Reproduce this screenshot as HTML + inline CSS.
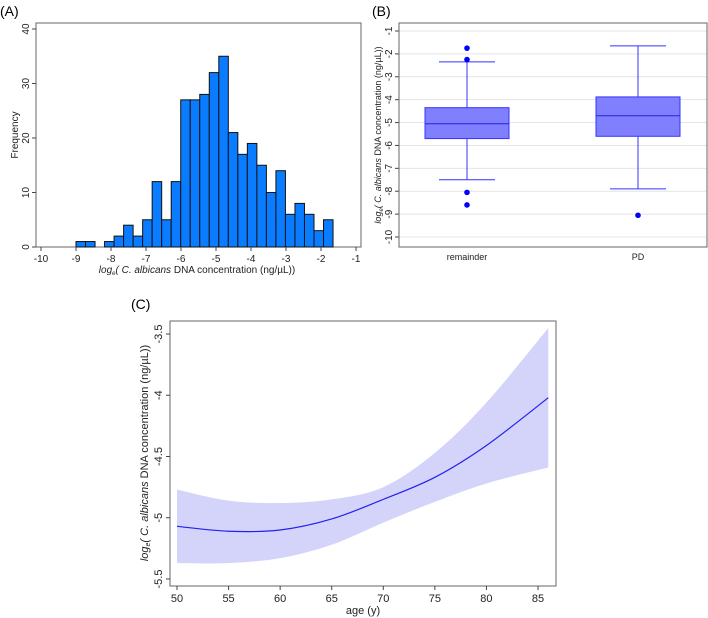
<!DOCTYPE html>
<html><head><meta charset="utf-8"><style>
body{margin:0;background:#fff;}
svg{display:block;font-family:"Liberation Sans",sans-serif;}
</style></head><body>
<svg id="svg" width="708" height="618" xmlns="http://www.w3.org/2000/svg">
<text x="0" y="16" font-size="14">(A)</text>
<text x="372" y="16" font-size="14">(B)</text>
<text x="131" y="309" font-size="14">(C)</text>
<g id="ga"></g>
<g id="gb"></g>
<g id="gc"></g>
</svg>
<script>
// Panel A data
const histStart = -9.0;
const histBinWidth = 0.272;
const histCounts = [1,1,0,1,2,4,2,5,12,5,12,27,27,28,32,35,21,17,19,15,10,14,6,8,6,3,5];
const histXTicks = [-10,-9,-8,-7,-6,-5,-4,-3,-2,-1];
const histYTicks = [0,10,20,30,40];
// Panel B data
const boxGroups = ["remainder","PD"];
const boxQ1 = [-5.7,-5.6];
const boxMedian = [-5.05,-4.7];
const boxQ3 = [-4.35,-3.88];
const boxWhiskLo = [-7.5,-7.9];
const boxWhiskHi = [-2.35,-1.65];
const boxOutliers = [[-1.75,-2.25,-8.05,-8.6],[-9.05]];
const boxYTicks = [-1,-2,-3,-4,-5,-6,-7,-8,-9,-10];
// Panel C data
const ages = [50,55,60,65,70,75,80,86];
const fitValues = [-5.07,-5.11,-5.10,-5.01,-4.85,-4.67,-4.41,-4.02];
const upperCI = [-4.77,-4.86,-4.88,-4.85,-4.75,-4.47,-4.06,-3.45];
const lowerCI = [-5.37,-5.37,-5.33,-5.22,-5.04,-4.87,-4.72,-4.59];
const ageTicks = [50,55,60,65,70,75,80,85];
const cYTicks = [-3.5,-4,-4.5,-5,-5.5];

const NS="http://www.w3.org/2000/svg";
function mk(parent,tag,attrs,text){const e=document.createElementNS(NS,tag);for(const k in attrs)e.setAttribute(k,attrs[k]);if(text!==undefined)e.textContent=text;parent.appendChild(e);return e;}

// ---- Panel A
(function(){
const g=document.getElementById('ga');
const xA=v=>41+(v+10)*(315/9), yA=v=>247-v*(218/40);
mk(g,'rect',{x:36,y:23,width:325,height:224,fill:'none',stroke:'#666','stroke-width':1});
histCounts.forEach((c,i)=>{ if(!c) return;
 const x0=xA(histStart+i*histBinWidth), x1=xA(histStart+(i+1)*histBinWidth);
 const r=mk(g,'rect',{x:x0,y:yA(c),width:x1-x0,height:yA(0)-yA(c),fill:'#0a7cff',stroke:'#111','stroke-width':1});
 
 
});
histXTicks.forEach(t=>{mk(g,'line',{x1:xA(t),x2:xA(t),y1:247,y2:251,stroke:'#444'});
 mk(g,'text',{x:xA(t),y:262,'font-size':10,'text-anchor':'middle',fill:'#222'},t);});
histYTicks.forEach(t=>{mk(g,'line',{x1:32,x2:36,y1:yA(t),y2:yA(t),stroke:'#444'});
 mk(g,'text',{x:0,y:0,'font-size':10,'text-anchor':'middle',fill:'#222',transform:`translate(29,${yA(t)}) rotate(-90)`},t);});
const yt=mk(g,'text',{x:0,y:0,'font-size':10,'text-anchor':'middle',fill:'#222',transform:'translate(18,135) rotate(-90)'},'Frequency');

const xt=mk(g,'text',{x:197,y:273,'font-size':10,'text-anchor':'middle',fill:'#222'});

xt.innerHTML='<tspan font-style="italic">log<tspan font-size="6" dy="2">e</tspan><tspan dy="-2">( C. albicans</tspan></tspan> DNA concentration (ng/µL))';
})();

// ---- Panel B
(function(){
const g=document.getElementById('gb');
const yB=v=>31+(-1-v)*(206/9);
const cx=[467,638];
boxYTicks.forEach(t=>{mk(g,'line',{x1:399,x2:707,y1:yB(t),y2:yB(t),stroke:'#e4e4e4'});
 mk(g,'line',{x1:395,x2:399,y1:yB(t),y2:yB(t),stroke:'#444'});
 mk(g,'text',{x:0,y:0,'font-size':10,'text-anchor':'middle',fill:'#222',transform:`translate(392,${yB(t)}) rotate(-90)`},t);});
mk(g,'rect',{x:399,y:23,width:308,height:224,fill:'none',stroke:'#666'});
boxGroups.forEach((name,i)=>{
 const c=cx[i];
 const b=mk(g,'g',{});
 
 
 mk(b,'line',{x1:c,x2:c,y1:yB(boxWhiskHi[i]),y2:yB(boxQ3[i]),stroke:'#3333ff'});
 mk(b,'line',{x1:c,x2:c,y1:yB(boxQ1[i]),y2:yB(boxWhiskLo[i]),stroke:'#3333ff'});
 mk(b,'line',{x1:c-28,x2:c+28,y1:yB(boxWhiskHi[i]),y2:yB(boxWhiskHi[i]),stroke:'#3333ff'});
 mk(b,'line',{x1:c-28,x2:c+28,y1:yB(boxWhiskLo[i]),y2:yB(boxWhiskLo[i]),stroke:'#3333ff'});
 mk(b,'rect',{x:c-42,y:yB(boxQ3[i]),width:84,height:yB(boxQ1[i])-yB(boxQ3[i]),fill:'#8080ff',stroke:'#3333ff'});
 mk(b,'line',{x1:c-42,x2:c+42,y1:yB(boxMedian[i]),y2:yB(boxMedian[i]),stroke:'#2222dd'});
 boxOutliers[i].forEach(o=>{const p=mk(b,'circle',{cx:c,cy:yB(o),r:2.8,fill:'#0000ff'});
  });
 mk(g,'text',{x:c,y:260,'font-size':9,'text-anchor':'middle',fill:'#222'},name);
});
const yt=mk(g,'text',{x:0,y:0,'font-size':9,'text-anchor':'middle',fill:'#222',transform:'translate(381,135) rotate(-90)'});

yt.innerHTML='<tspan font-style="italic">log<tspan font-size="6" dy="2">e</tspan><tspan dy="-2">( C. albicans</tspan></tspan> DNA concentration (ng/µL))';
})();

// ---- Panel C
(function(){
const g=document.getElementById('gc');
const xC=v=>177+(v-50)*(361/35), yC=v=>334+(-3.5-v)*(245/2);
mk(g,'rect',{x:170,y:321,width:386,height:265,fill:'none',stroke:'#666'});
function seg(pts){let s='';
 for(let i=0;i<pts.length-1;i++){const p0=pts[Math.max(0,i-1)],p1=pts[i],p2=pts[i+1],p3=pts[Math.min(pts.length-1,i+2)];
  s+=` C${p1[0]+(p2[0]-p0[0])/6},${p1[1]+(p2[1]-p0[1])/6} ${p2[0]-(p3[0]-p1[0])/6},${p2[1]-(p3[1]-p1[1])/6} ${p2[0]},${p2[1]}`;}
 return s;}
const up=ages.map((a,i)=>[xC(a),yC(upperCI[i])]);
const lo=ages.map((a,i)=>[xC(a),yC(lowerCI[i])]).reverse();
const bandD='M'+up[0]+seg(up)+' L'+lo[0]+seg(lo)+'Z';
const band=mk(g,'path',{d:bandD,fill:'#d4d4fb',stroke:'none'});

const fp=ages.map((a,i)=>[xC(a),yC(fitValues[i])]);
const ln=mk(g,'path',{d:'M'+fp[0]+seg(fp),fill:'none',stroke:'#2222ee','stroke-width':1.2});

ageTicks.forEach(t=>{mk(g,'line',{x1:xC(t),x2:xC(t),y1:586,y2:590,stroke:'#444'});
 mk(g,'text',{x:xC(t),y:602,'font-size':11,'text-anchor':'middle',fill:'#222'},t);});
cYTicks.forEach(t=>{mk(g,'line',{x1:166,x2:170,y1:yC(t),y2:yC(t),stroke:'#444'});
 mk(g,'text',{x:0,y:0,'font-size':11,'text-anchor':'middle',fill:'#222',transform:`translate(162,${yC(t)}) rotate(-90)`},t);});
const xt=mk(g,'text',{x:363,y:614,'font-size':11,'text-anchor':'middle',fill:'#222'},'age (y)');

const yt=mk(g,'text',{x:0,y:0,'font-size':11,'text-anchor':'middle',fill:'#222',transform:'translate(148,453) rotate(-90)'});

yt.innerHTML='<tspan font-style="italic">log<tspan font-size="7" dy="2">e</tspan><tspan dy="-2">( C. albicans</tspan></tspan> DNA concentration (ng/µL))';
})();
</script>
</body></html>
